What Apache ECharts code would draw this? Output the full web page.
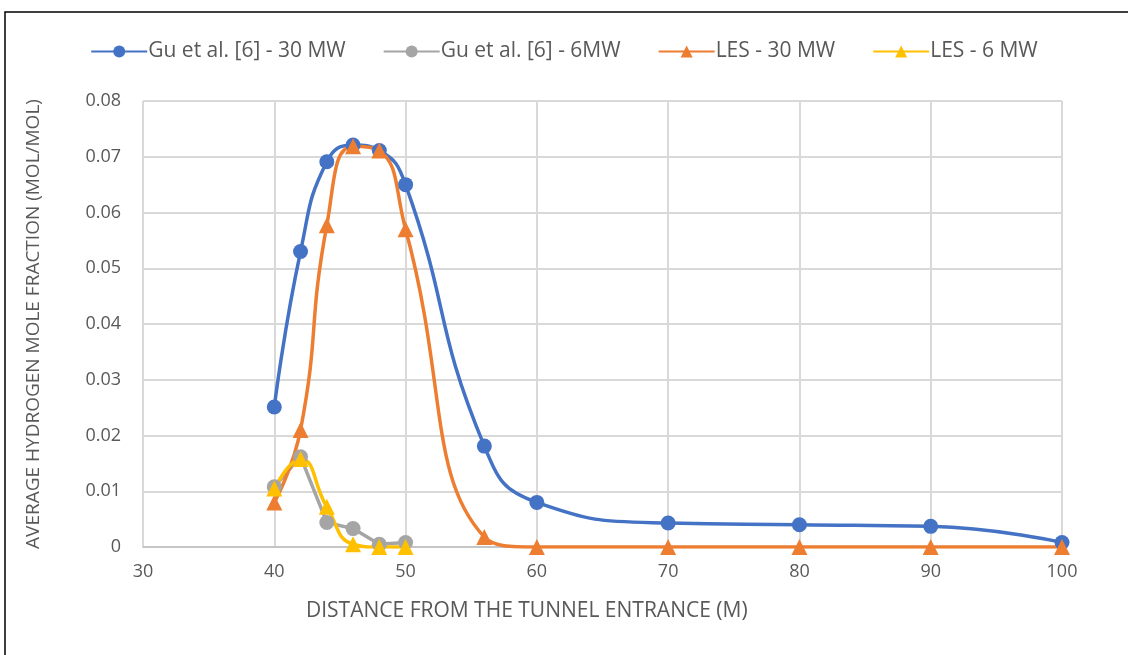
<!DOCTYPE html>
<html>
<head>
<meta charset="utf-8">
<script src="https://cdn.jsdelivr.net/npm/echarts@6/dist/echarts.min.js"></script>
<style>
html,body{margin:0;padding:0;background:#fff;}
#chart{width:1128px;height:655px;}
</style>
</head>
<body>
<div id="chart"></div>
<script>
// data
var xGu30 = [40, 42, 44, 46, 48, 50, 56, 60, 70, 80, 90, 100];
var yGu30 = [0.0251, 0.0530, 0.0691, 0.0721, 0.0711, 0.0650, 0.0181, 0.0080, 0.0043, 0.0040, 0.0037, 0.0008];
var xGu6 = [40, 42, 44, 46, 48, 50];
var yGu6 = [0.0108, 0.0162, 0.0044, 0.0033, 0.0005, 0.0008];
var xLes30 = [40, 42, 44, 46, 48, 50, 56, 60, 70, 80, 90, 100];
var yLes30 = [0.0080, 0.0210, 0.0577, 0.0719, 0.0711, 0.0570, 0.0018, 0, 0, 0, 0, 0];
var xLes6 = [40, 42, 44, 46, 48, 50];
var yLes6 = [0.0105, 0.0158, 0.0072, 0.0005, 0, 0];

function pairs(xs, ys) {
    var out = [];
    for (var i = 0; i < xs.length; i++) out.push([xs[i], ys[i]]);
    return out;
}

var fontFam = '"Open Sans", "Liberation Sans", sans-serif';
var txt = '#595959';

var myChart = echarts.init(document.getElementById('chart'));

function mkSeries(name, data, color, symbol, smooth) {
    return {
        name: name,
        type: 'line',
        data: data,
        smooth: smooth,
        symbol: symbol,
        symbolSize: symbol === 'circle' ? 15 : 16,
        lineStyle: {color: color, width: 3.5},
        itemStyle: {color: color},
        emphasis: {disabled: true}
    };
}

myChart.setOption({
    animation: false,
    backgroundColor: '#fff',
    graphic: [
        {type: 'rect', shape: {x: 5, y: 12, width: 1140, height: 660}, style: {fill: 'none', stroke: '#000', lineWidth: 1.5}, z: 100},
        {type: 'text', left: 306, top: 601, style: {text: 'DISTANCE FROM THE TUNNEL ENTRANCE (M)', font: '21px ' + fontFam, fill: txt}}
    ],
    legend: {
        top: 36,
        left: 'center',
        itemWidth: 56,
        itemHeight: 15,
        itemGap: 37,
        textStyle: {fontFamily: fontFam, fontSize: 21, color: txt, padding: [0, 0, 0, -4]},
        data: ['Gu et al. [6] - 30 MW', 'Gu et al. [6] - 6MW', 'LES - 30 MW', 'LES - 6 MW']
    },
    grid: {left: 143, right: 66, top: 101, bottom: 108},
    xAxis: {
        type: 'value',
        min: 30, max: 100, interval: 10,
        axisLine: {show: true, lineStyle: {color: '#bfbfbf', width: 1.5}},
        axisTick: {show: false},
        splitLine: {show: true, lineStyle: {color: '#d9d9d9', width: 2}},
        axisLabel: {fontFamily: fontFam, fontSize: 18, color: txt, margin: 16}
    },
    yAxis: {
        type: 'value',
        min: 0, max: 0.08, interval: 0.01,
        name: 'AVERAGE HYDROGEN MOLE FRACTION (MOL/MOL)',
        nameLocation: 'middle',
        nameGap: 100,
        nameTextStyle: {fontFamily: fontFam, fontSize: 19, color: txt},
        axisLine: {show: false},
        axisTick: {show: false},
        splitLine: {show: true, lineStyle: {color: '#d9d9d9', width: 2}},
        axisLabel: {
            fontFamily: fontFam, fontSize: 18, color: txt, margin: 22,
            formatter: function (v) { return v === 0 ? '0' : v.toFixed(2); }
        }
    },
    series: [
        mkSeries('Gu et al. [6] - 30 MW', pairs(xGu30, yGu30), '#4472c4', 'circle', true),
        mkSeries('Gu et al. [6] - 6MW', pairs(xGu6, yGu6), '#a5a5a5', 'circle', false),
        mkSeries('LES - 30 MW', pairs(xLes30, yLes30), '#ed7d31', 'triangle', true),
        mkSeries('LES - 6 MW', pairs(xLes6, yLes6), '#ffc000', 'triangle', true)
    ]
});

window.onresize = function () {
    myChart.resize();
};
</script>
</body>
</html>
